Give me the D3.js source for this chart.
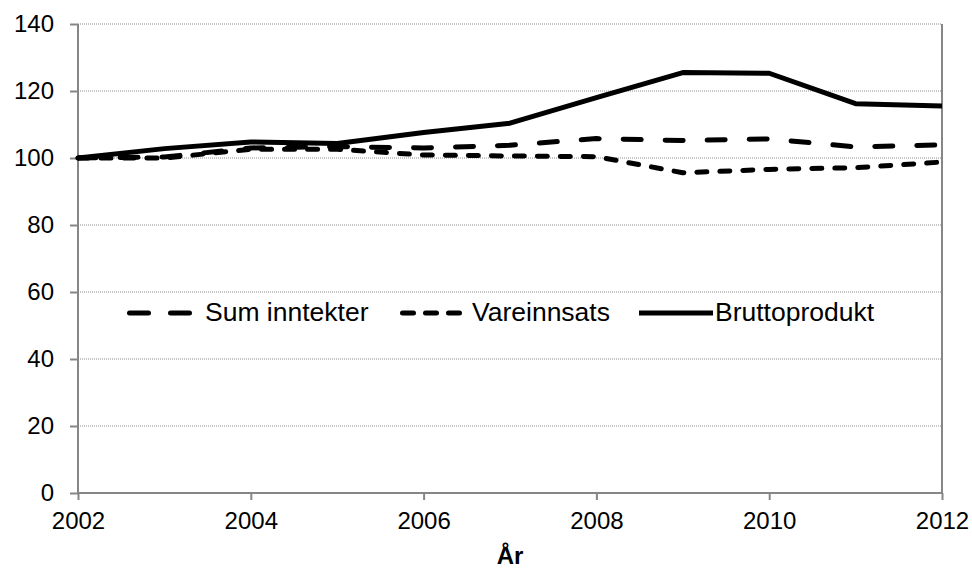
<!DOCTYPE html>
<html>
<head>
<meta charset="utf-8">
<script src="https://d3js.org/d3.v7.min.js"></script>
<style>
  body { margin: 0; background: #fff; }
  text { font-family: "Liberation Sans", Arial, sans-serif; fill: #000; }
</style>
</head>
<body>
<div id="plot"></div>
<script>
// data
var years = [2002, 2003, 2004, 2005, 2006, 2007, 2008, 2009, 2010, 2011, 2012];
var sumInntekter = [100, 100.3, 103, 103.4, 103, 103.8, 105.8, 105.2, 105.7, 103.3, 103.9];
var vareinnsats = [100, 100, 102.6, 102.6, 100.9, 100.6, 100.4, 95.6, 96.6, 97.1, 98.8];
var bruttoprodukt = [100, 102.8, 104.8, 104.3, 107.6, 110.4, 118, 125.5, 125.3, 116.2, 115.5];
var yTicks = [0, 20, 40, 60, 80, 100, 120, 140];
var xTicks = [2002, 2004, 2006, 2008, 2010, 2012];

var series = [
  { name: "Sum inntekter", values: sumInntekter, dash: "18,24", legendDash: "19,22" },
  { name: "Vareinnsats", values: vareinnsats, dash: "10,13", legendDash: "11,12" },
  { name: "Bruttoprodukt", values: bruttoprodukt, dash: null, legendDash: null }
];

var w = 972, h = 571;
var padL = 78, padR = 942, padT = 24, padB = 493;
var tickFont = 24, legendFont = 26.5;

var svg = d3.select("#plot").append("svg")
  .attr("width", w).attr("height", h);

var x = d3.scaleLinear().domain([2002, 2012]).range([padL, padR]);
var y = d3.scaleLinear().domain([0, 140]).range([padB, padT]);

// gridlines
svg.append("g").selectAll("line")
  .data(yTicks.filter(function(d) { return d > 0; }))
  .enter().append("line")
  .attr("x1", padL).attr("x2", padR)
  .attr("y1", function(d) { return y(d); })
  .attr("y2", function(d) { return y(d); })
  .attr("stroke", "#8c8c8c").attr("stroke-width", 1)
  .attr("stroke-dasharray", "1,1");

// right border
svg.append("line")
  .attr("x1", padR).attr("x2", padR)
  .attr("y1", padT).attr("y2", padB)
  .attr("stroke", "#868686").attr("stroke-width", 2);

// axes
var yAxis = d3.axisLeft(y).tickValues(yTicks).tickSize(8).tickPadding(16);
var xAxis = d3.axisBottom(x).tickValues(xTicks).tickFormat(d3.format("d")).tickSize(7).tickPadding(12);

var gy = svg.append("g").attr("transform", "translate(" + padL + ",0)").call(yAxis);
var gx = svg.append("g").attr("transform", "translate(0," + padB + ")").call(xAxis);

[gx, gy].forEach(function(g) {
  g.selectAll("path").attr("stroke", "#868686").attr("stroke-width", 2);
  g.selectAll("line").attr("stroke", "#868686").attr("stroke-width", 2);
  g.selectAll("text").attr("font-size", tickFont).attr("fill", "#000")
    .attr("font-family", "Liberation Sans, Arial, sans-serif");
});
gy.select(".domain").attr("d", "M0," + padT + "V" + padB);
gx.select(".domain").attr("d", "M" + padL + ",0H" + padR);

// axis title
svg.append("text")
  .attr("x", (padL + padR) / 2).attr("y", 564)
  .attr("text-anchor", "middle")
  .attr("font-size", tickFont).attr("font-weight", "bold")
  .text("År");

// lines
var line = d3.line()
  .x(function(d, i) { return x(years[i]); })
  .y(function(d) { return y(d); });

svg.append("g").selectAll("path")
  .data(series)
  .enter().append("path")
  .attr("d", function(s) { return line(s.values); })
  .attr("fill", "none")
  .attr("stroke", "#000")
  .attr("stroke-width", 5)
  .attr("stroke-linecap", function(s) { return s.dash ? "round" : "butt"; })
  .attr("stroke-linejoin", "round")
  .attr("stroke-dasharray", function(s) { return s.dash; });

// legend
var legendY = 313;
var legendItems = [
  { x1: 129.5, x2: 190.5, tx: 205 },
  { x1: 402.5, x2: 459.5, tx: 472 },
  { x1: 639, x2: 713, tx: 715 }
];
var lg = svg.append("g");
series.forEach(function(s, i) {
  var p = legendItems[i];
  lg.append("line")
    .attr("x1", p.x1).attr("x2", p.x2)
    .attr("y1", legendY).attr("y2", legendY)
    .attr("stroke", "#000")
    .attr("stroke-width", 5)
    .attr("stroke-linecap", s.legendDash ? "round" : "butt")
    .attr("stroke-dasharray", s.legendDash);
  lg.append("text")
    .attr("x", p.tx).attr("y", legendY + 8)
    .attr("font-size", legendFont)
    .text(s.name);
});
</script>
</body>
</html>
